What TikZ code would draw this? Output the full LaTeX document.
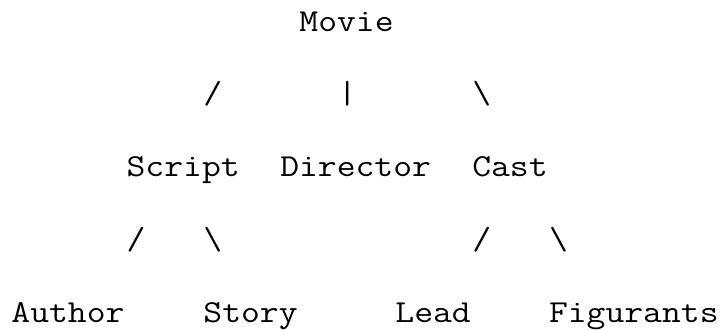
\documentclass[tikz,border=0pt]{standalone}
\usepackage{fontspec}
\begin{document}
\begin{tikzpicture}[x=9.6pt,y=-36.375pt,
	cell/.style={anchor=base west,inner sep=0pt,font=\ttfamily\fontsize{16}{16}\selectfont,xscale=1.143}]
	\useasboundingbox (-5.5pt,15.5pt) rectangle (355.5pt,-149pt);
	%gyoker
	\node [cell] (movie) at (15,0) {Movie};
	\node [cell] (movie-script) at (10,1) {/};
	\node [cell] (movie-director) at (17,1) {|};
	\node [cell] (movie-cast) at (24,1) {\textbackslash};
	%masodik sor
	\node [cell] (script) at (6,2) {Script};
	\node [cell] (director) at (14,2) {Director};
	\node [cell] (cast) at (24,2) {Cast};
	\node [cell] (script-author) at (6,3) {/};
	\node [cell] (script-story) at (10,3) {\textbackslash};
	\node [cell] (cast-lead) at (24,3) {/};
	\node [cell] (cast-figurants) at (28,3) {\textbackslash};
	%levelek
	\node [cell] (author) at (0,4) {Author};
	\node [cell] (story) at (10,4) {Story};
	\node [cell] (lead) at (20,4) {Lead};
	\node [cell] (figurants) at (28,4) {Figurants};
\end{tikzpicture}
\end{document}
